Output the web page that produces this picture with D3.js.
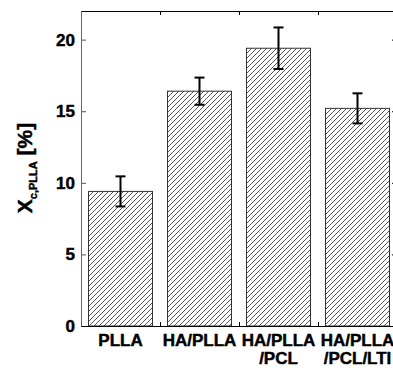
<!DOCTYPE html>
<html><head><meta charset="utf-8">
<script src="https://cdn.jsdelivr.net/npm/d3@7"></script>
<style>body{margin:0;background:#fff}svg{display:block}text{font-family:Arial,"Liberation Sans",sans-serif;font-weight:bold;stroke:#000;stroke-width:0.45px}</style>
</head><body>
<script>
const categories = [["PLLA"], ["HA/PLLA"], ["HA/PLLA", "/PCL"], ["HA/PLLA", "/PCL/LTI"]];
const values = [9.4, 16.4, 19.4, 15.2];
const errors = [1.05, 0.95, 1.45, 1.05];
const yTicks = [0, 5, 10, 15, 20];
const xMinorTicks = [1.5, 2.5, 3.5];

const W = 393, H = 371;
const svg = d3.select("body").append("svg").attr("width", W).attr("height", H);
const x = d3.scaleLinear().domain([0.5, 4.5]).range([81, 397]);
const y = d3.scaleLinear().domain([0, 22]).range([326, 11]);

const defs = svg.append("defs");
const s = 5;
const pat = defs.append("pattern").attr("id", "hatch").attr("patternUnits", "userSpaceOnUse")
  .attr("width", s).attr("height", s);
pat.append("path").attr("d", `M0,${s} L${s},0 M${-s/2},${s/2} L${s/2},${-s/2} M${s/2},${s*1.5} L${s*1.5},${s/2}`)
  .attr("stroke", "#444").attr("stroke-width", 0.9);

const bw = 0.81;
const g = svg.append("g");
g.selectAll("rect.bar").data(values).join("rect").attr("class", "bar")
  .attr("x", (d, i) => x(i + 1 - bw / 2)).attr("width", x(bw) - x(0))
  .attr("y", d => y(d)).attr("height", d => y(0) - y(d))
  .attr("fill", "url(#hatch)").attr("stroke", "#333").attr("stroke-width", 1);

// error bars
const eb = g.selectAll("g.eb").data(values).join("g").attr("class", "eb");
eb.append("line").attr("x1", (d, i) => x(i + 1)).attr("x2", (d, i) => x(i + 1))
  .attr("y1", (d, i) => y(d + errors[i])).attr("y2", (d, i) => y(d - errors[i]))
  .attr("stroke", "#000").attr("stroke-width", 2);
[1, -1].forEach(sg => {
  eb.append("line").attr("x1", (d, i) => x(i + 1) - 5).attr("x2", (d, i) => x(i + 1) + 5)
    .attr("y1", (d, i) => y(d + sg * errors[i])).attr("y2", (d, i) => y(d + sg * errors[i]))
    .attr("stroke", "#000").attr("stroke-width", 2);
});

// axes
const leftAx = svg.append("g").attr("transform", `translate(${x(0.5)},0)`)
  .call(d3.axisRight(y).tickValues(yTicks).tickSize(5).tickSizeOuter(0).tickFormat(""));
leftAx.select(".domain").attr("stroke", "#666");
leftAx.selectAll(".tick line").attr("stroke", "#555");
svg.append("g").selectAll("text").data(yTicks).join("text")
  .attr("x", 75).attr("y", d => y(d) + 6).attr("text-anchor", "end")
  .attr("font-size", 17).text(d => d);

const rightAx = svg.append("g").attr("transform", `translate(${x(4.5)},0)`)
  .call(d3.axisLeft(y).tickValues(yTicks.slice(1)).tickSize(5).tickSizeOuter(0).tickFormat(""));
rightAx.select(".domain").attr("stroke", "#000");

const bottomAx = svg.append("g").attr("transform", `translate(0,${y(0)})`)
  .call(d3.axisTop(x).tickValues(xMinorTicks).tickSize(4).tickSizeOuter(0).tickFormat(""));
bottomAx.select(".domain").attr("stroke", "#000").attr("stroke-width", 1.2);
const topAx = svg.append("g").attr("transform", `translate(0,${y(22)})`)
  .call(d3.axisBottom(x).tickValues(xMinorTicks).tickSize(4).tickSizeOuter(0).tickFormat(""));
topAx.select(".domain").attr("stroke", "#000").attr("stroke-width", 1.2);

// x labels
categories.forEach((lines, i) => {
  lines.forEach((t, j) => {
    svg.append("text").attr("x", x(i + 1)).attr("y", 346 + j * 18)
      .attr("text-anchor", "middle").attr("font-size", 17).text(t);
  });
});

// y label
const yl = svg.append("text").attr("transform", "translate(32,168) rotate(-90)")
  .attr("text-anchor", "middle");
yl.append("tspan").attr("font-size", 21).text("X");
yl.append("tspan").attr("font-size", 11).attr("dy", 5).text("c,PLLA");
yl.append("tspan").attr("font-size", 21).attr("dy", -5).text(" [%]");
</script>
</body></html>
